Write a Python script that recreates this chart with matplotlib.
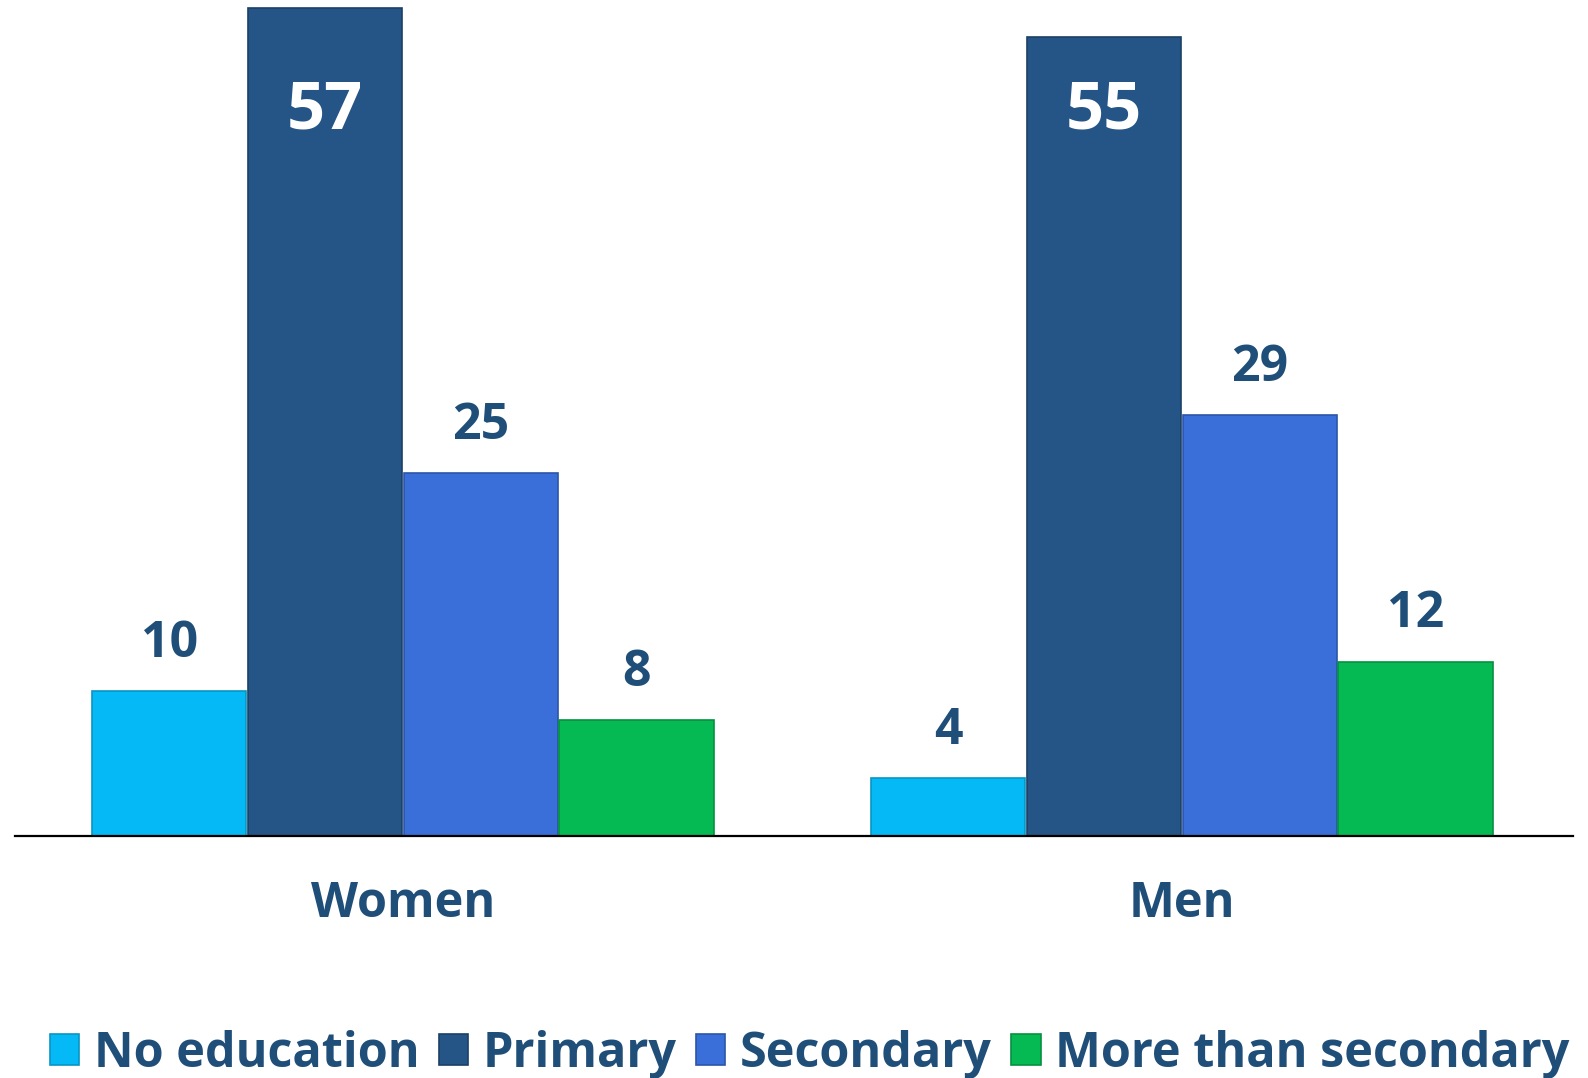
import matplotlib.pyplot as plt
import numpy as np

groups = ["Women", "Men"]
levels = ["No education", "Primary", "Secondary", "More than secondary"]
no_education = [10, 4]
primary = [57, 55]
secondary = [25, 29]
more_than_secondary = [8, 12]

colors = ["#05B9F6", "#245586", "#3A6FD9", "#05BA52"]
edges = ["#0896C4", "#1B4066", "#2C55A8", "#05913F"]
text_color = "#1F4E79"

plt.rcParams["font.family"] = ["Open Sans", "DejaVu Sans"]
plt.rcParams["font.weight"] = "bold"

fig = plt.figure(figsize=(15.88, 10.78), dpi=100)
ax = fig.add_axes([0.0096, 0.2245, 0.981, 0.7755])

x = np.arange(len(groups))
width = 0.2
series = [no_education, primary, secondary, more_than_secondary]
offsets = [-0.3, -0.1, 0.1, 0.3]

for vals, off, col, ec, lab in zip(series, offsets, colors, edges, levels):
    bars = ax.bar(x + off, vals, width * 0.99, color=col, edgecolor=ec,
                  linewidth=1.2, label=lab, zorder=2)
    for b, v in zip(bars, vals):
        cx = b.get_x() + b.get_width() / 2
        if v > 40:
            ax.text(cx, 49.9, str(v), ha="center", va="center",
                    fontsize=48, fontweight="bold", color="white", zorder=3)
        else:
            ax.annotate(str(v), (cx, v), xytext=(0, 34), textcoords="offset points",
                        ha="center", va="center", fontsize=36,
                        fontweight="bold", color=text_color)

ax.set_xlim(-0.4977, 1.5023)
ax.set_ylim(0, 57.55)
ax.set_xticks(x)
ax.set_xticklabels(groups, fontsize=35, fontweight="bold", color=text_color)
ax.tick_params(axis="x", length=0, pad=32)
ax.set_yticks([])
for s in ["top", "right", "left"]:
    ax.spines[s].set_visible(False)
ax.spines["bottom"].set_linewidth(1.6)
ax.spines["bottom"].set_color("black")

leg = fig.legend(loc="center", bbox_to_anchor=(0.51, 0.022), ncol=4, frameon=False,
                 prop={"size": 35, "weight": "bold"}, handlelength=0.6, handleheight=0.62,
                 handletextpad=0.3, columnspacing=0.4, borderaxespad=0)
for t in leg.get_texts():
    t.set_color(text_color)

fig.savefig("out.png", dpi=100)
